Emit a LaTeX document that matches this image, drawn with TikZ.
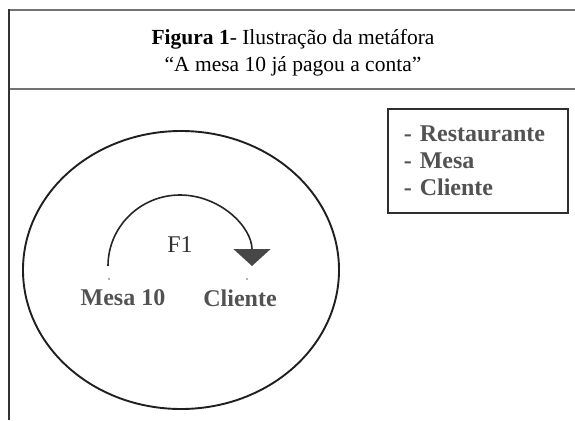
\documentclass[tikz,border=0pt]{standalone}
\usepackage{fontspec}
\setmainfont{Liberation Serif}
\usepackage{tikz}
\usetikzlibrary{arrows.meta}
\usetikzlibrary{positioning}

\begin{document}
\begin{tikzpicture}[x=1pt, y=-1pt,
		lbl/.style={text=black!68, font=\bfseries\fontsize{24}{27}\selectfont, inner sep=0pt},
		frame/.style={draw=black!55, line width=1.6pt}]
			\useasboundingbox (0,0) rectangle (575,420);
			% header
			\draw[frame] (575,10) -- (9,10);
			\draw[frame] (575,89) -- (9,89);
			\draw[draw=black!80, line width=1.4pt] (9,9.2) -- (9,420);
			\node[align=center, font=\fontsize{21.5}{27}\selectfont] (title) at (293,53)
				{\textbf{Figura 1}- Ilustração da metáfora\\“A mesa 10 já pagou a conta”};
			% domain
			\draw[black!88, line width=1.9pt] (181,270) ellipse [x radius=158, y radius=139];
			\coordinate (start) at (108,266);
			\draw[black!85, line width=1.6pt, -{Triangle[width=37pt, length=17pt, fill=black!72, color=black!72]}]
				(start) arc[start angle=180, end angle=360, x radius=72, y radius=71] coordinate (tip);
			\node[font=\fontsize{24}{24}\selectfont, text=black!80] (f1) at (180,245) {F1};
			\fill[black!60] (109,279) circle (0.9);
			\fill[black!60] (247,279) circle (0.9);
			\node[lbl] (mesa) at (123,298) {Mesa 10};
			\node[lbl] (cliente) at (240,298) {Cliente};
			% legend
			\node[lbl, draw=black!82, line width=1.6pt, anchor=north west, align=left,
				text width=148pt, inner xsep=16pt, minimum height=104pt] (legend) at (387,108)
				{- Restaurante\\- Mesa\\- Cliente};
		\end{tikzpicture}
\end{document}
